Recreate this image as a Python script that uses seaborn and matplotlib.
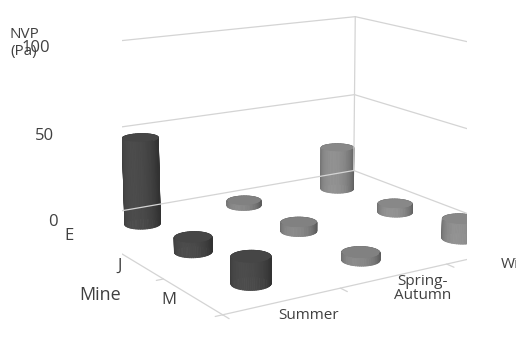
import numpy as np
import matplotlib
matplotlib.use("Agg")
import matplotlib.pyplot as plt
import seaborn as sns
from mpl_toolkits.mplot3d.art3d import Poly3DCollection
from matplotlib.colors import to_rgb

# Net ventilation pressure by mine and season
seasons = ["Summer", "Spring-\nAutumn", "Winter"]
mines = ["E", "J", "M"]
nvp_E = [50, 3, 26]
nvp_J = [8, 5, 5]
nvp_M = [14, 4, 11]
z_ticks = [0, 50, 100]

sns.set_theme(style="white")
plt.rcParams["font.family"] = ["Open Sans", "DejaVu Sans"]
season_colors = sns.color_palette(["#454545", "#7e7e7e", "#858585"])

values = {"E": nvp_E, "J": nvp_J, "M": nvp_M}
# depth position: E at the back, M at the front
mine_pos = {"E": 2, "J": 1, "M": 0}

fig = plt.figure(figsize=(5.16, 3.45), dpi=100)
ax = fig.add_axes([0.07, 0.07, 1, 1], projection="3d")
ax.set_proj_type("persp", focal_length=0.75)
box = (3.6, 3.2, 1.8)
ax.set_box_aspect(box, zoom=1.47)
ax.view_init(elev=14, azim=-123)
ax.set_xlim(-0.5, 2.5)
ax.set_ylim(-0.5, 2.5)
ax.set_zlim(0, 100)
ax.set_axis_off()

grid_c = "#d4d4d4"
lw = 0.9
x0, x1, y0, y1 = -0.5, 2.5, -0.5, 2.5
# back wall and right wall gridlines
for z in z_ticks:
    ax.plot([x0, x1], [y1, y1], [z, z], color=grid_c, lw=lw)
    ax.plot([x1, x1], [y1, y0], [z, z], color=grid_c, lw=lw)
# floor edges
ax.plot([x0, x1], [y0, y0], [0, 0], color=grid_c, lw=lw)
ax.plot([x0, x0], [y1, y0], [0, 0], color=grid_c, lw=lw)
# vertical edges
ax.plot([x0, x0], [y1, y1], [0, 100], color=grid_c, lw=lw)
ax.plot([x1, x1], [y1, y1], [0, 100], color=grid_c, lw=lw)
# small tick marks
for z in z_ticks:
    ax.plot([x0 - 0.04, x0], [y1, y1], [z, z], color=grid_c, lw=lw)
for yb in [0.5, 1.5, 2.5, -0.5]:
    ax.plot([x0 - 0.06, x0], [yb, yb], [0, 0], color=grid_c, lw=lw)
for xb in [-0.5, 0.5, 1.5, 2.5]:
    ax.plot([xb, xb], [y0 - 0.1, y0], [0, 0], color=grid_c, lw=lw)

text_c = "#404040"
for z in z_ticks:
    ax.text(x0 - 0.08, y1, z, str(z), ha="right", va="center",
            fontsize=12, color=text_c)
for m in mines:
    ax.text(x0 - 0.13, mine_pos[m], 0, m, ha="right", va="center",
            fontsize=12, color=text_c)
for i, s in enumerate(seasons):
    ax.text(i, y0 - 0.38, 0, s, ha="center", va="center", fontsize=11,
            color=text_c, rotation=15, linespacing=0.9)

fig.text(100 / 516, 1 - 295 / 345, "Mine", fontsize=13, color=text_c,
         ha="center", va="center")
fig.text(24 / 516, 1 - 43 / 345, "NVP\n(Pa)", fontsize=11, color=text_c,
         ha="center", va="center", linespacing=1.1)

# cylinders
R = 0.18
rx = R * 3.0 / box[0]
ry = R * 3.0 / box[1]
n = 64
theta = np.linspace(0, 2 * np.pi, n + 1)
light = np.deg2rad(-140)

polys, fcs = [], []
for m in mines:
    for i, h in enumerate(values[m]):
        xc, yc = i, mine_pos[m]
        base = np.array(to_rgb(season_colors[i]))
        for k in range(n):
            t0, t1 = theta[k], theta[k + 1]
            tm = 0.5 * (t0 + t1)
            quad = [
                (xc + rx * np.cos(t0), yc + ry * np.sin(t0), 0),
                (xc + rx * np.cos(t1), yc + ry * np.sin(t1), 0),
                (xc + rx * np.cos(t1), yc + ry * np.sin(t1), h),
                (xc + rx * np.cos(t0), yc + ry * np.sin(t0), h),
            ]
            inten = 0.72 + 0.38 * max(0.0, np.cos(tm - light))
            polys.append(quad)
            fcs.append(np.clip(base * inten, 0, 1))
        top = [(xc + rx * np.cos(t), yc + ry * np.sin(t), h) for t in theta[:-1]]
        polys.append(top)
        fcs.append(np.clip(base * 1.02, 0, 1))

coll = Poly3DCollection(polys, facecolors=fcs, edgecolors=fcs, linewidths=0.6)
ax.add_collection3d(coll)

fig.savefig("out.png", dpi=100)
